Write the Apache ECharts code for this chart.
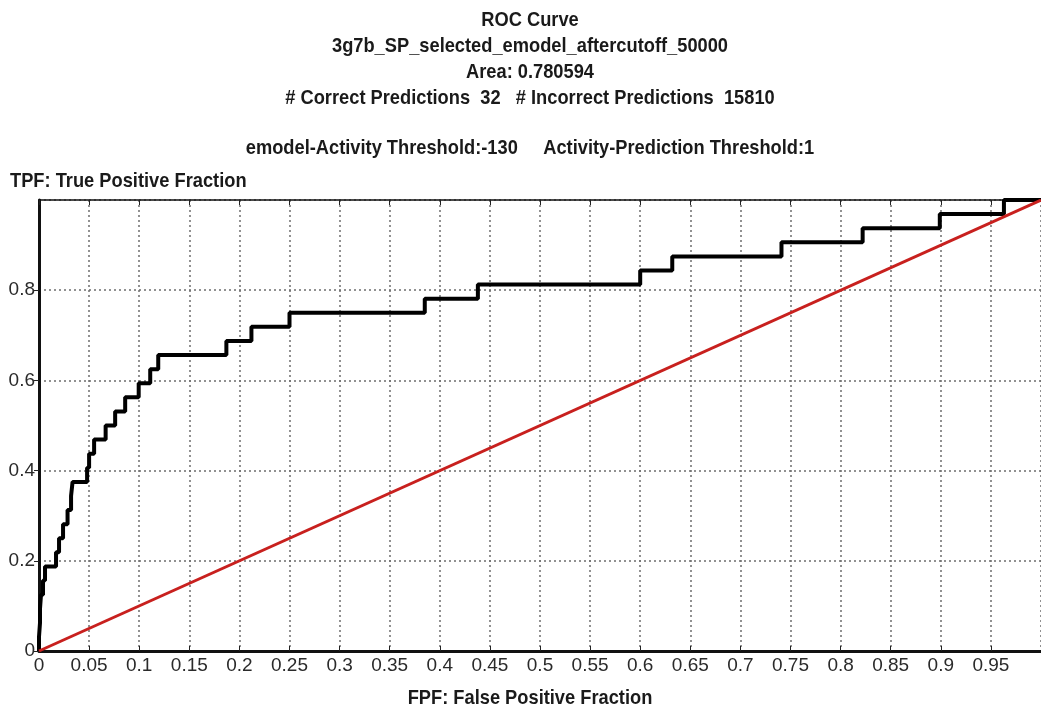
<!DOCTYPE html>
<html>
<head>
<meta charset="utf-8">
<script src="https://cdn.jsdelivr.net/npm/echarts@6/dist/echarts.min.js"></script>
<style>
  html, body { margin: 0; padding: 0; background: #fff; }
  #chart { width: 1041px; height: 709px; }
</style>
</head>
<body>
<div id="chart"></div>
<script>
// ROC operating points (top-left corner of each rise), 32 positives -> steps of 1/32
const rocFpf = [0, 0, 0.001, 0.001, 0.002, 0.004, 0.006, 0.017, 0.020, 0.024, 0.0285, 0.032, 0.0335,
  0.048, 0.050, 0.055, 0.0665, 0.076, 0.086, 0.0995, 0.111, 0.119, 0.187, 0.212, 0.250,
  0.385, 0.438, 0.600, 0.632, 0.741, 0.822, 0.899, 0.963, 1.0];
const rocTpf = [0, 0.03125, 0.0625, 0.09375, 0.125, 0.15625, 0.1875, 0.21875, 0.25, 0.28125, 0.3125, 0.34375, 0.375,
  0.40625, 0.4375, 0.46875, 0.5, 0.53125, 0.5625, 0.59375, 0.625, 0.65625, 0.6875, 0.71875, 0.75,
  0.78125, 0.8125, 0.84375, 0.875, 0.90625, 0.9375, 0.96875, 1.0, 1.0];

// Chance diagonal
const chanceFpf = [0, 1];
const chanceTpf = [0, 1];

const titleLines = [
  'ROC Curve',
  '3g7b_SP_selected_emodel_aftercutoff_50000',
  'Area: 0.780594',
  '# Correct Predictions  32   # Incorrect Predictions  15810'
];
const thresholdLine = 'emodel-Activity Threshold:-130     Activity-Prediction Threshold:1';
const yAxisTitle = 'TPF: True Positive Fraction';
const xAxisTitle = 'FPF: False Positive Fraction';

const headFont = "'Liberation Sans', Arial, sans-serif";
const tickFont = "'Liberation Sans', Arial, sans-serif";

const zip = (a, b) => a.map((v, i) => [v, b[i]]);

const chart = echarts.init(document.getElementById('chart'), null, { renderer: 'canvas' });

// Bold headings, narrowed horizontally for a condensed face
const headStyle = { fontFamily: headFont, fontWeight: 'bold', fontSize: 21, fill: '#1a1a1a', textAlign: 'center', textVerticalAlign: 'middle' };
const narrow = 0.87;
const lineY = [20, 46, 72, 98];

const headText = (t, x, y, align) => ({
  type: 'text', x: x, y: y, scaleX: narrow,
  style: Object.assign({}, headStyle, { text: t, textAlign: align || 'center' })
});

const graphics = titleLines.map((t, i) => headText(t, 530, lineY[i]));
graphics.push(headText(thresholdLine, 530, 148));
graphics.push(headText(yAxisTitle, 10, 181, 'left'));
graphics.push(headText(xAxisTitle, 530, 698));

const gridLine = { show: true, lineStyle: { color: '#6e6e6e', type: [2, 3], width: 1.5 } };

chart.setOption({
  animation: false,
  backgroundColor: '#ffffff',
  grid: { left: 39, top: 200, width: 1010, height: 451, containLabel: false },
  graphic: graphics,
  xAxis: [
    {
      type: 'value', min: 0, max: 1, interval: 0.05, position: 'bottom',
      axisLine: { show: true, onZero: false, lineStyle: { color: '#111', width: 3 } },
      axisTick: { show: true, inside: true, length: 5, lineStyle: { color: '#222', width: 1 } },
      axisLabel: { show: true, showMaxLabel: false, margin: 5, color: '#2a2a2a', fontFamily: tickFont, fontSize: 19,
        formatter: v => String(+v.toFixed(2)) },
      splitLine: gridLine
    },
    {
      type: 'value', min: 0, max: 1, interval: 0.05, position: 'top',
      axisLine: { show: true, onZero: false, lineStyle: { color: '#111', width: 1.5 } },
      axisTick: { show: true, inside: true, length: 5, lineStyle: { color: '#222', width: 1 } },
      axisLabel: { show: false },
      splitLine: { show: false }
    }
  ],
  yAxis: {
    type: 'value', min: 0, max: 1, interval: 0.2,
    axisLine: { show: true, onZero: false, lineStyle: { color: '#111', width: 3 } },
    axisTick: { show: true, inside: false, length: 5, lineStyle: { color: '#222', width: 1 } },
    axisLabel: { show: true, showMaxLabel: false, margin: 4, color: '#2a2a2a', fontFamily: tickFont, fontSize: 19,
      formatter: v => String(+v.toFixed(1)) },
    splitLine: gridLine
  },
  series: [
    {
      name: 'ROC', type: 'line', xAxisIndex: 0, step: 'end', symbol: 'none',
      lineStyle: { color: '#000', width: 4 },
      data: zip(rocFpf, rocTpf), z: 3
    },
    {
      name: 'Chance', type: 'line', xAxisIndex: 0, symbol: 'none',
      lineStyle: { color: '#c8201e', width: 3 },
      data: zip(chanceFpf, chanceTpf), z: 4
    }
  ]
});
</script>
</body>
</html>
